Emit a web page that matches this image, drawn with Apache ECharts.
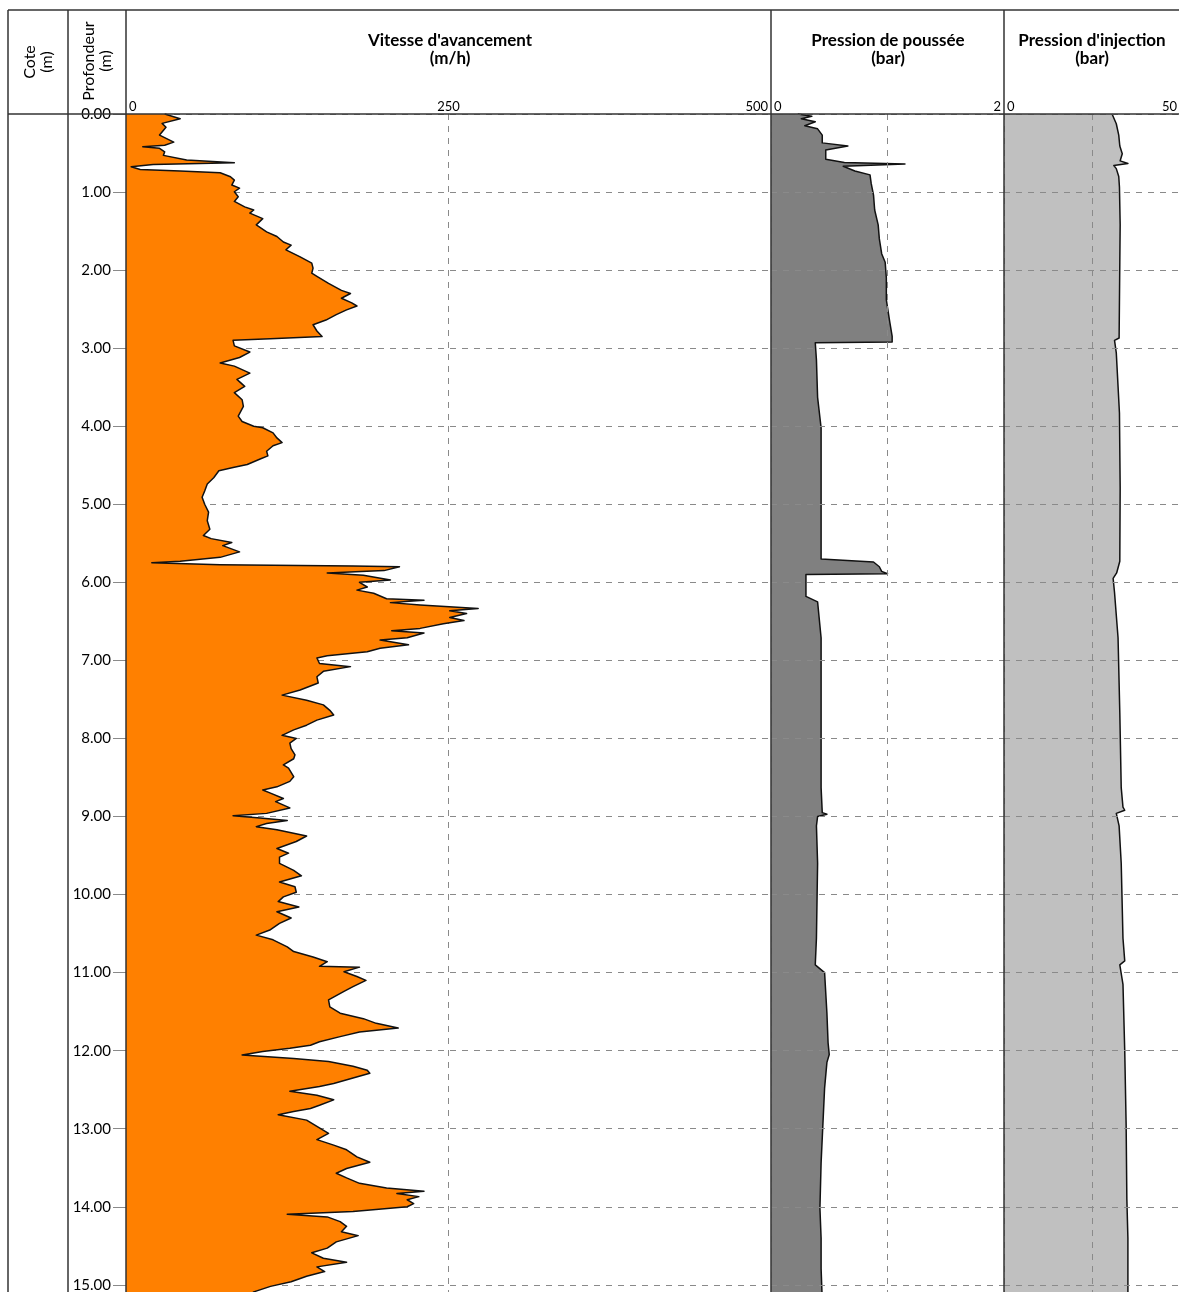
<!DOCTYPE html>
<html><head><meta charset="utf-8">
<script src="https://cdn.jsdelivr.net/npm/echarts@6/dist/echarts.min.js"></script>
<style>html,body{margin:0;padding:0;background:#fff}#c{width:1179px;height:1292px}</style>
</head><body><div id="c"></div>
<script>
// ---------- DATA ----------
const depthTickValues = [0,1,2,3,4,5,6,7,8,9,10,11,12,13,14,15];

// Vitesse d'avancement (m/h) vs depth (m)
const vitesseDepth = [0.00,0.06,0.12,0.17,0.27,0.36,0.40,0.42,0.44,0.485,0.53,0.59,0.625,0.646,0.676,0.71,0.73,0.753,0.804,0.847,0.91,0.95,0.996,1.06,1.12,1.19,1.23,1.27,1.34,1.42,1.51,1.57,1.64,1.68,1.74,1.83,1.91,1.975,2.04,2.08,2.17,2.26,2.30,2.36,2.42,2.46,2.51,2.57,2.64,2.70,2.78,2.85,2.88,2.90,2.97,3.05,3.12,3.19,3.23,3.32,3.40,3.49,3.57,3.66,3.745,3.87,3.94,4.00,4.02,4.085,4.15,4.21,4.25,4.32,4.38,4.42,4.49,4.53,4.57,4.66,4.74,4.83,4.91,5.00,5.10,5.21,5.32,5.40,5.44,5.49,5.53,5.61,5.68,5.73,5.75,5.775,5.79,5.80,5.85,5.88,5.91,5.97,6.00,6.06,6.10,6.14,6.21,6.23,6.26,6.29,6.335,6.365,6.40,6.45,6.49,6.53,6.59,6.62,6.65,6.71,6.74,6.80,6.845,6.89,6.94,6.97,7.04,7.08,7.14,7.21,7.29,7.38,7.445,7.51,7.57,7.64,7.70,7.765,7.83,7.89,7.96,8.00,8.06,8.13,8.21,8.26,8.34,8.38,8.49,8.55,8.62,8.66,8.70,8.77,8.81,8.89,8.96,8.99,9.02,9.05,9.09,9.13,9.17,9.25,9.32,9.41,9.47,9.52,9.60,9.69,9.76,9.84,9.90,9.97,10.03,10.09,10.16,10.22,10.30,10.37,10.45,10.52,10.58,10.67,10.73,10.80,10.86,10.92,10.93,10.99,11.05,11.10,11.18,11.24,11.35,11.44,11.52,11.59,11.65,11.71,11.76,11.82,11.885,11.93,11.97,12.01,12.055,12.10,12.14,12.20,12.25,12.29,12.35,12.42,12.46,12.52,12.57,12.63,12.70,12.74,12.78,12.82,12.89,12.97,13.06,13.14,13.21,13.27,13.36,13.43,13.51,13.57,13.63,13.70,13.76,13.80,13.83,13.87,13.91,13.96,14.00,14.06,14.095,14.13,14.19,14.25,14.32,14.37,14.45,14.53,14.59,14.66,14.71,14.77,14.83,14.89,14.96,15.02,15.09,15.20];
const vitesseValue = [30,42,28,31,26,37,30,13,26,30,29,47,84,21,4,11,42,73,81,84,82,88,84,87,84,92,99,96,106,101,109,117,122,128,124,135,144,145,144,148,157,167,174,167,175,179,171,163,155,145,148,152,112,83,84,96,88,73,84,96,86,92,84,90,91,87,90,99,106,114,117,121,114,109,110,104,94,83,72,68,63,61,59,61,64,63,65,60,66,82,75,88,73,42,20,73,176,212,200,156,184,205,181,187,179,192,202,231,205,228,273,251,264,251,262,246,228,206,231,218,197,219,197,187,156,148,150,174,153,148,149,135,121,140,153,158,161,148,140,130,121,132,127,128,131,130,122,126,130,127,117,106,112,122,116,127,109,83,104,125,109,101,117,140,132,117,126,119,119,130,136,119,131,132,122,118,134,117,128,119,112,101,114,125,130,145,156,150,181,169,179,186,176,169,157,158,166,184,194,211,181,166,150,143,127,106,90,130,157,176,187,189,176,161,150,127,148,161,150,143,130,118,140,148,157,148,161,171,179,189,171,163,171,181,202,231,210,227,218,223,218,176,125,156,166,171,167,180,163,156,144,153,171,148,154,140,128,112,99,92];

// Pression de poussée (bar) vs depth (m)
const pousseeDepth = [0.00,0.03,0.06,0.10,0.15,0.19,0.27,0.37,0.41,0.46,0.58,0.62,0.64,0.67,0.73,0.78,0.89,1.04,1.23,1.42,1.60,1.79,1.90,2.10,2.38,2.67,2.85,2.92,2.93,3.15,3.63,4.02,4.50,5.17,5.70,5.74,5.80,5.86,5.89,5.90,6.18,6.25,6.71,7.67,8.63,8.95,8.97,9.00,9.12,9.60,10.56,10.90,11.00,11.52,11.90,12.05,12.15,12.48,13.44,14.02,14.40,14.79,15.20];
const pousseeValue = [0.23,0.35,0.26,0.38,0.29,0.40,0.44,0.44,0.66,0.47,0.47,0.63,1.15,0.62,0.72,0.85,0.86,0.88,0.89,0.92,0.93,0.95,0.98,0.99,0.99,1.02,1.04,1.04,0.38,0.39,0.40,0.43,0.43,0.43,0.43,0.88,0.93,0.95,1.00,0.30,0.30,0.40,0.43,0.43,0.43,0.44,0.48,0.40,0.39,0.40,0.39,0.38,0.46,0.48,0.49,0.50,0.48,0.46,0.43,0.42,0.43,0.43,0.44];

// Pression d'injection (bar) vs depth (m)
const injectionDepth = [0.00,0.125,0.27,0.41,0.51,0.60,0.635,0.66,0.70,0.80,0.94,1.42,1.90,2.87,2.90,3.06,3.83,4.79,5.73,5.88,5.95,6.13,6.71,7.67,8.63,8.88,8.92,8.96,9.12,9.60,10.56,10.85,10.90,11.15,12.00,12.96,13.90,14.40,15.20];
const injectionValue = [30.7,31.9,32.6,32.9,33.6,33.0,35.2,31.2,31.9,32.6,32.8,33.0,32.9,32.7,31.4,31.9,32.8,33.0,32.9,32.0,31.0,31.4,32.4,32.9,33.3,33.8,34.3,31.9,32.7,33.3,33.8,34.3,32.9,33.8,34.3,34.7,34.9,35.2,35.2];

// ---------- CHART ----------
const FONT = 'Lato, "Open Sans", sans-serif';
const chart = echarts.init(document.getElementById('c'), null, {renderer:'canvas'});
const TOP = 114, H = 1188, YMAX = 15.22;
const gridDefs = [
  {left:126, width:645},
  {left:771, width:233},
  {left:1004, width:176}
];
const dashed = {color:'#8a8a8a', type:[6,6], width:1};

function xAxisDef(i, max, interval, showMid){
  return {
    gridIndex:i, type:'value', position:'top', min:0, max:max, interval:interval,
    z: i === 0 ? 0 : 5,
    axisLine:{show:false}, axisTick:{show:false},
    splitLine:{show:true, lineStyle:dashed},
    axisLabel:{
      show:true, margin:1, fontSize:13, color:'#000', fontFamily:FONT,
      alignMinLabel:'left', alignMaxLabel:'right',
      formatter: v => v === 0 ? '{l|0}' : (v === max ? '{r|' + v + '}' : (showMid ? String(v) : '')),
      rich:{
        l:{padding:[0,0,0,3], fontSize:13, fontFamily:FONT, color:'#000'},
        r:{padding:[0,3,0,0], fontSize:13, fontFamily:FONT, color:'#000'}
      }
    }
  };
}
function yAxisDef(i){
  return {
    gridIndex:i, type:'value', inverse:true, min:0, max:YMAX, interval:1,
    z: i === 0 ? 0 : 5,
    axisLine:{show:false},
    axisTick:{show:i===0, length:13, lineStyle:{color:'#8a8a8a'}},
    splitLine:{show:true, lineStyle:dashed},
    axisLabel:{
      show:i===0, margin:15, fontSize:15, color:'#000', fontFamily:FONT,
      formatter: v => (Math.abs(v - Math.round(v)) < 1e-6 && depthTickValues.indexOf(Math.round(v)) >= 0) ? v.toFixed(2) : ''
    }
  };
}
function profileSeries(gi, depths, vals, fill){
  const data = depths.map((d,k) => [vals[k], d]);
  return {
    type:'custom', xAxisIndex:gi, yAxisIndex:gi, silent:true, z:2,
    data:data,
    renderItem:function(params, api){
      if (params.dataIndex !== 0) return null;
      const pts = data.map(p => api.coord(p));
      const a = api.coord([0, depths[0]]);
      const b = api.coord([0, depths[depths.length-1]]);
      return {type:'group', children:[
        {type:'polygon', shape:{points:[a].concat(pts, [b])}, style:{fill:fill, stroke:null}},
        {type:'polyline', shape:{points:pts}, style:{stroke:'#111', lineWidth:1.5, fill:null, lineJoin:'round'}}
      ]};
    }
  };
}

const frame = '#333';
function vline(x){ return {type:'line', z:100, shape:{x1:x,y1:10,x2:x,y2:1292}, style:{stroke:frame, lineWidth:1.5}}; }
function hline(y){ return {type:'line', z:100, shape:{x1:8,y1:y,x2:1179,y2:y}, style:{stroke:frame, lineWidth:1.5}}; }
function txt(x, y, s, size, weight, rot){
  return {type:'text', z:100, x:x, y:y, rotation:rot||0,
    style:{text:s, align:'center', verticalAlign:'middle', fontFamily:FONT, fontSize:size, fontWeight:weight, fill:'#000', lineHeight:size+1}};
}

chart.setOption({
  animation:false,
  backgroundColor:'#fff',
  grid: gridDefs.map(g => ({left:g.left, width:g.width, top:TOP, height:H, containLabel:false, outerBoundsMode:'none'})),
  xAxis:[xAxisDef(0,500,250,true), xAxisDef(1,2,1,false), xAxisDef(2,50,25,false)],
  yAxis:[yAxisDef(0), yAxisDef(1), yAxisDef(2)],
  series:[
    profileSeries(0, vitesseDepth, vitesseValue, '#ff8000'),
    profileSeries(1, pousseeDepth, pousseeValue, '#808080'),
    profileSeries(2, injectionDepth, injectionValue, '#c0c0c0')
  ],
  graphic:[
    hline(10), hline(114),
    vline(8), vline(68), vline(126), vline(771), vline(1004),
    txt(38, 62, 'Cote\n(m)', 16, 'normal', Math.PI/2),
    txt(97, 61, 'Profondeur\n(m)', 16, 'normal', Math.PI/2),
    txt(450, 41, "Vitesse d'avancement", 17, 'bold'),
    txt(450, 59, '(m/h)', 17, 'bold'),
    txt(888, 41, 'Pression de poussée', 17, 'bold'),
    txt(888, 59, '(bar)', 17, 'bold'),
    txt(1092, 41, "Pression d'injection", 17, 'bold'),
    txt(1092, 59, '(bar)', 17, 'bold')
  ]
});
</script></body></html>
